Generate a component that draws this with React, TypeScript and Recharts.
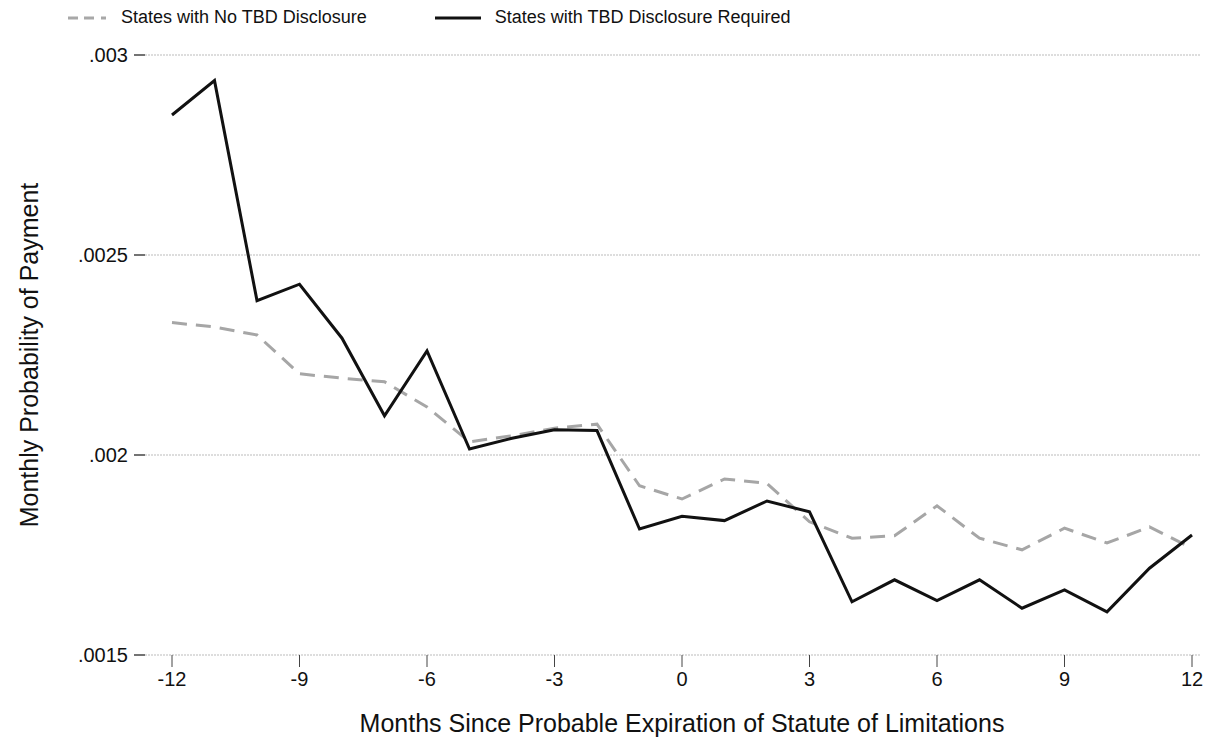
import { LineChart, Line, XAxis, YAxis, CartesianGrid } from "recharts";

const months = [-12, -11, -10, -9, -8, -7, -6, -5, -4, -3, -2, -1, 0, 1, 2, 3, 4, 5, 6, 7, 8, 9, 10, 11, 12];

// states with no TBD disclosure (dashed gray)
const noDisclosure = [
    0.002331, 0.00232, 0.0023, 0.002203, 0.002192, 0.002183, 0.00212, 0.002033, 0.002048, 0.002067,
    0.002077, 0.001923, 0.00189, 0.00194, 0.001929, 0.001833, 0.001792, 0.001798, 0.001873, 0.001792,
    0.001763, 0.001817, 0.00178, 0.00182, 0.001767,
];

// states with TBD disclosure required (solid black)
const disclosure = [
    0.00285, 0.002936, 0.002386, 0.002427, 0.002292, 0.002098, 0.00226, 0.002015, 0.002042, 0.002063,
    0.002061, 0.001815, 0.001847, 0.001836, 0.001885, 0.001858, 0.001633, 0.001688, 0.001636, 0.001688,
    0.001617, 0.001663, 0.001608, 0.001717, 0.0018,
];

const xTicks = [-12, -9, -6, -3, 0, 3, 6, 9, 12];
const yTicks = [0.0015, 0.002, 0.0025, 0.003];

const seriesNames = ["States with No TBD Disclosure", "States with TBD Disclosure Required"];

const data = months.map((m, i) => ({
    month: m,
    none: noDisclosure[i],
    required: disclosure[i],
}));

const FONT = "'Liberation Sans', Arial, Helvetica, sans-serif";
const DASH = "15 9";

const LegendRow = () => (
    <div
        style={{
            position: "absolute",
            top: 7,
            left: 68,
            display: "flex",
            alignItems: "center",
            fontFamily: FONT,
            fontSize: 18,
            color: "#111",
        }}
    >
        <svg width={40} height={10}>
            <line x1={0} y1={5} x2={40} y2={5} stroke="#a8a8a8" strokeWidth={3} strokeDasharray="10 6 10 7 5 20" />
        </svg>
        <span style={{ marginLeft: 13 }}>{seriesNames[0]}</span>
        <svg width={46} height={10} style={{ marginLeft: 68 }}>
            <line x1={0} y1={5} x2={46} y2={5} stroke="#111" strokeWidth={3} />
        </svg>
        <span style={{ marginLeft: 14 }}>{seriesNames[1]}</span>
    </div>
);

const YTitle = (props: any) => {
    const vb = props.viewBox || {};
    const cx = vb.x + 29;
    const cy = vb.y + vb.height / 2;
    return (
        <text
            x={cx}
            y={cy}
            transform={`rotate(-90 ${cx} ${cy})`}
            textAnchor="middle"
            dominantBaseline="central"
            fontFamily={FONT}
            fontSize={25}
            fill="#111"
        >
            Monthly Probability of Payment
        </text>
    );
};

const XTitle = (props: any) => {
    const vb = props.viewBox || {};
    return (
        <text
            x={vb.x + 27 + (vb.width - 35) / 2}
            y={vb.y + 77}
            textAnchor="middle"
            fontFamily={FONT}
            fontSize={25}
            fill="#111"
        >
            Months Since Probable Expiration of Statute of Limitations
        </text>
    );
};

export default function App() {
    return (
        <div style={{ position: "absolute", left: 0, top: 0, width: 1209, height: 746, background: "#fff" }}>
            <LegendRow />
            <LineChart width={1209} height={746} data={data} margin={{ top: 55, right: 9, left: 0, bottom: 0 }}>
                <CartesianGrid horizontal vertical={false} stroke="#d2d2d2" strokeWidth={1.5} strokeDasharray="2 1" />
                <XAxis
                    dataKey="month"
                    type="number"
                    domain={[-12, 12]}
                    ticks={xTicks}
                    padding={{ left: 27, right: 8 }}
                    axisLine={false}
                    tickSize={12}
                    tickLine={{ stroke: "#444" }}
                    tick={{ fill: "#111", fontSize: 20, fontFamily: FONT }}
                    tickMargin={5}
                    height={91}
                    label={<XTitle />}
                />
                <YAxis
                    type="number"
                    domain={[0.0015, 0.003]}
                    ticks={yTicks}
                    tickFormatter={(v: number) => v.toString().replace(/^0/, "")}
                    axisLine={false}
                    tickSize={11}
                    tickLine={{ stroke: "#444", strokeWidth: 1.5 }}
                    tick={{ fill: "#111", fontSize: 20, fontFamily: FONT }}
                    tickMargin={6}
                    width={145}
                    label={<YTitle />}
                />
                <Line
                    type="linear"
                    dataKey="none"
                    name={seriesNames[0]}
                    stroke="#a6a6a6"
                    strokeWidth={3}
                    strokeDasharray={DASH}
                    dot={false}
                    isAnimationActive={false}
                />
                <Line
                    type="linear"
                    dataKey="required"
                    name={seriesNames[1]}
                    stroke="#111"
                    strokeWidth={3}
                    dot={false}
                    isAnimationActive={false}
                />
            </LineChart>
        </div>
    );
}
